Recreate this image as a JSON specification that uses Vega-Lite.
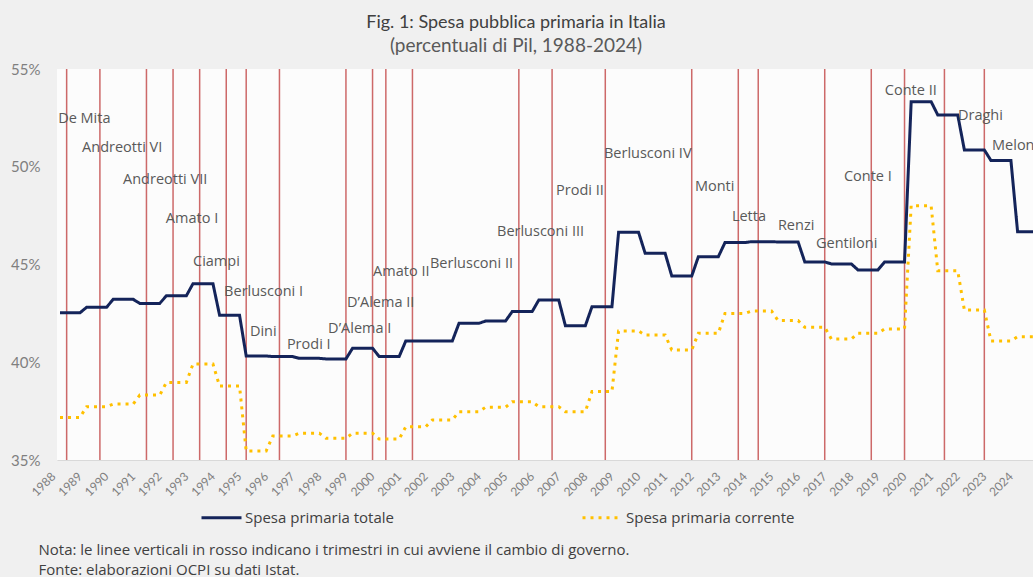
{
  "$schema": "https://vega.github.io/schema/vega-lite/v6.json",
  "width": 976,
  "height": 391,
  "autosize": {"type": "none"},
  "padding": {"left": 57, "top": 69, "right": 0, "bottom": 117},
  "background": "#f0f0f0",
  "title": {
    "text": "Fig. 1: Spesa pubblica primaria in Italia",
    "subtitle": "(percentuali di Pil, 1988-2024)",
    "anchor": "middle",
    "dx": -29,
    "offset": 6,
    "font": "Lato",
    "fontSize": 18,
    "fontWeight": "normal",
    "color": "#404040",
    "subtitleFont": "Lato",
    "subtitleFontSize": 19,
    "subtitleColor": "#595959",
    "subtitlePadding": 5
  },
  "config": {
    "view": {"fill": "#fcfcfc", "stroke": null},
    "axis": {"grid": false, "ticks": false, "tickSize": 0, "labelColor": "#7f7f7f", "labelFont": "Lato"},
    "axisX": {"labelOverlap": false, "labelFlush": false}
  },
  "datasets": {
    "serie": [
      {"t":1988,"tot":42.53,"cor":37.18},{"t":1988.25,"tot":42.53,"cor":37.18},{"t":1988.5,"tot":42.53,"cor":37.18},{"t":1988.75,"tot":42.53,"cor":37.18},
      {"t":1989,"tot":42.81,"cor":37.73},{"t":1989.25,"tot":42.81,"cor":37.73},{"t":1989.5,"tot":42.81,"cor":37.73},{"t":1989.75,"tot":42.81,"cor":37.73},
      {"t":1990,"tot":43.22,"cor":37.86},{"t":1990.25,"tot":43.22,"cor":37.86},{"t":1990.5,"tot":43.22,"cor":37.86},{"t":1990.75,"tot":43.22,"cor":37.86},
      {"t":1991,"tot":43.01,"cor":38.32},{"t":1991.25,"tot":43.01,"cor":38.32},{"t":1991.5,"tot":43.01,"cor":38.32},{"t":1991.75,"tot":43.01,"cor":38.32},
      {"t":1992,"tot":43.40,"cor":38.97},{"t":1992.25,"tot":43.40,"cor":38.97},{"t":1992.5,"tot":43.40,"cor":38.97},{"t":1992.75,"tot":43.40,"cor":38.97},
      {"t":1993,"tot":44.02,"cor":39.91},{"t":1993.25,"tot":44.02,"cor":39.91},{"t":1993.5,"tot":44.02,"cor":39.91},{"t":1993.75,"tot":44.02,"cor":39.91},
      {"t":1994,"tot":42.40,"cor":38.78},{"t":1994.25,"tot":42.40,"cor":38.78},{"t":1994.5,"tot":42.40,"cor":38.78},{"t":1994.75,"tot":42.40,"cor":38.78},
      {"t":1995,"tot":40.32,"cor":35.46},{"t":1995.25,"tot":40.32,"cor":35.46},{"t":1995.5,"tot":40.32,"cor":35.46},{"t":1995.75,"tot":40.32,"cor":35.46},
      {"t":1996,"tot":40.29,"cor":36.23},{"t":1996.25,"tot":40.29,"cor":36.23},{"t":1996.5,"tot":40.29,"cor":36.23},{"t":1996.75,"tot":40.29,"cor":36.23},
      {"t":1997,"tot":40.20,"cor":36.37},{"t":1997.25,"tot":40.20,"cor":36.37},{"t":1997.5,"tot":40.20,"cor":36.37},{"t":1997.75,"tot":40.20,"cor":36.37},
      {"t":1998,"tot":40.17,"cor":36.11},{"t":1998.25,"tot":40.17,"cor":36.11},{"t":1998.5,"tot":40.17,"cor":36.11},{"t":1998.75,"tot":40.17,"cor":36.11},
      {"t":1999,"tot":40.72,"cor":36.37},{"t":1999.25,"tot":40.72,"cor":36.37},{"t":1999.5,"tot":40.72,"cor":36.37},{"t":1999.75,"tot":40.72,"cor":36.37},
      {"t":2000,"tot":40.29,"cor":36.07},{"t":2000.25,"tot":40.29,"cor":36.07},{"t":2000.5,"tot":40.29,"cor":36.07},{"t":2000.75,"tot":40.29,"cor":36.07},
      {"t":2001,"tot":41.09,"cor":36.70},{"t":2001.25,"tot":41.09,"cor":36.70},{"t":2001.5,"tot":41.09,"cor":36.70},{"t":2001.75,"tot":41.09,"cor":36.70},
      {"t":2002,"tot":41.09,"cor":37.05},{"t":2002.25,"tot":41.09,"cor":37.05},{"t":2002.5,"tot":41.09,"cor":37.05},{"t":2002.75,"tot":41.09,"cor":37.05},
      {"t":2003,"tot":41.99,"cor":37.47},{"t":2003.25,"tot":41.99,"cor":37.47},{"t":2003.5,"tot":41.99,"cor":37.47},{"t":2003.75,"tot":41.99,"cor":37.47},
      {"t":2004,"tot":42.11,"cor":37.70},{"t":2004.25,"tot":42.11,"cor":37.70},{"t":2004.5,"tot":42.11,"cor":37.70},{"t":2004.75,"tot":42.11,"cor":37.70},
      {"t":2005,"tot":42.59,"cor":37.98},{"t":2005.25,"tot":42.59,"cor":37.98},{"t":2005.5,"tot":42.59,"cor":37.98},{"t":2005.75,"tot":42.59,"cor":37.98},
      {"t":2006,"tot":43.18,"cor":37.73},{"t":2006.25,"tot":43.18,"cor":37.73},{"t":2006.5,"tot":43.18,"cor":37.73},{"t":2006.75,"tot":43.18,"cor":37.73},
      {"t":2007,"tot":41.87,"cor":37.47},{"t":2007.25,"tot":41.87,"cor":37.47},{"t":2007.5,"tot":41.87,"cor":37.47},{"t":2007.75,"tot":41.87,"cor":37.47},
      {"t":2008,"tot":42.84,"cor":38.50},{"t":2008.25,"tot":42.84,"cor":38.50},{"t":2008.5,"tot":42.84,"cor":38.50},{"t":2008.75,"tot":42.84,"cor":38.50},
      {"t":2009,"tot":46.65,"cor":41.60},{"t":2009.25,"tot":46.65,"cor":41.60},{"t":2009.5,"tot":46.65,"cor":41.60},{"t":2009.75,"tot":46.65,"cor":41.60},
      {"t":2010,"tot":45.57,"cor":41.39},{"t":2010.25,"tot":45.57,"cor":41.39},{"t":2010.5,"tot":45.57,"cor":41.39},{"t":2010.75,"tot":45.57,"cor":41.39},
      {"t":2011,"tot":44.41,"cor":40.63},{"t":2011.25,"tot":44.41,"cor":40.63},{"t":2011.5,"tot":44.41,"cor":40.63},{"t":2011.75,"tot":44.41,"cor":40.63},
      {"t":2012,"tot":45.40,"cor":41.48},{"t":2012.25,"tot":45.40,"cor":41.48},{"t":2012.5,"tot":45.40,"cor":41.48},{"t":2012.75,"tot":45.40,"cor":41.48},
      {"t":2013,"tot":46.12,"cor":42.50},{"t":2013.25,"tot":46.12,"cor":42.50},{"t":2013.5,"tot":46.12,"cor":42.50},{"t":2013.75,"tot":46.12,"cor":42.50},
      {"t":2014,"tot":46.17,"cor":42.62},{"t":2014.25,"tot":46.17,"cor":42.62},{"t":2014.5,"tot":46.17,"cor":42.62},{"t":2014.75,"tot":46.17,"cor":42.62},
      {"t":2015,"tot":46.15,"cor":42.13},{"t":2015.25,"tot":46.15,"cor":42.13},{"t":2015.5,"tot":46.15,"cor":42.13},{"t":2015.75,"tot":46.15,"cor":42.13},
      {"t":2016,"tot":45.13,"cor":41.79},{"t":2016.25,"tot":45.13,"cor":41.79},{"t":2016.5,"tot":45.13,"cor":41.79},{"t":2016.75,"tot":45.13,"cor":41.79},
      {"t":2017,"tot":45.03,"cor":41.19},{"t":2017.25,"tot":45.03,"cor":41.19},{"t":2017.5,"tot":45.03,"cor":41.19},{"t":2017.75,"tot":45.03,"cor":41.19},
      {"t":2018,"tot":44.72,"cor":41.48},{"t":2018.25,"tot":44.72,"cor":41.48},{"t":2018.5,"tot":44.72,"cor":41.48},{"t":2018.75,"tot":44.72,"cor":41.48},
      {"t":2019,"tot":45.13,"cor":41.70},{"t":2019.25,"tot":45.13,"cor":41.70},{"t":2019.5,"tot":45.13,"cor":41.70},{"t":2019.75,"tot":45.13,"cor":41.70},
      {"t":2020,"tot":53.33,"cor":48.01},{"t":2020.25,"tot":53.33,"cor":48.01},{"t":2020.5,"tot":53.33,"cor":48.01},{"t":2020.75,"tot":53.33,"cor":48.01},
      {"t":2021,"tot":52.65,"cor":44.68},{"t":2021.25,"tot":52.65,"cor":44.68},{"t":2021.5,"tot":52.65,"cor":44.68},{"t":2021.75,"tot":52.65,"cor":44.68},
      {"t":2022,"tot":50.86,"cor":42.67},{"t":2022.25,"tot":50.86,"cor":42.67},{"t":2022.5,"tot":50.86,"cor":42.67},{"t":2022.75,"tot":50.86,"cor":42.67},
      {"t":2023,"tot":50.32,"cor":41.09},{"t":2023.25,"tot":50.32,"cor":41.09},{"t":2023.5,"tot":50.32,"cor":41.09},{"t":2023.75,"tot":50.32,"cor":41.09},
      {"t":2024,"tot":46.68,"cor":41.31},{"t":2024.25,"tot":46.68,"cor":41.31},{"t":2024.5,"tot":46.68,"cor":41.31},{"t":2024.75,"tot":46.68,"cor":41.31}
    ],
    "gov": [
      {"nome":"De Mita","t":1988.25,"lt":1987.93,"ly":52.43},
      {"nome":"Andreotti VI","t":1989.5,"lt":1988.83,"ly":50.94},
      {"nome":"Andreotti VII","t":1991.25,"lt":1990.37,"ly":49.32},
      {"nome":"Amato I","t":1992.25,"lt":1991.98,"ly":47.31},
      {"nome":"Ciampi","t":1993.25,"lt":1993.0,"ly":45.14},
      {"nome":"Berlusconi I","t":1994.25,"lt":1994.17,"ly":43.61},
      {"nome":"Dini","t":1995.0,"lt":1995.14,"ly":41.56},
      {"nome":"Prodi I","t":1996.25,"lt":1996.53,"ly":40.88},
      {"nome":"D’Alema I","t":1998.75,"lt":1998.08,"ly":41.68},
      {"nome":"D’Alema II","t":1999.75,"lt":1998.79,"ly":43.01},
      {"nome":"Amato II","t":2000.25,"lt":1999.77,"ly":44.63},
      {"nome":"Berlusconi II","t":2001.25,"lt":2001.91,"ly":45.03},
      {"nome":"Berlusconi III","t":2005.25,"lt":2004.43,"ly":46.65},
      {"nome":"Prodi II","t":2006.5,"lt":2006.65,"ly":48.78},
      {"nome":"Berlusconi IV","t":2008.5,"lt":2008.45,"ly":50.64},
      {"nome":"Monti","t":2011.75,"lt":2011.87,"ly":48.95},
      {"nome":"Letta","t":2013.5,"lt":2013.26,"ly":47.45},
      {"nome":"Renzi","t":2014.25,"lt":2014.99,"ly":46.99},
      {"nome":"Gentiloni","t":2016.75,"lt":2016.42,"ly":46.05},
      {"nome":"Conte I","t":2018.5,"lt":2017.47,"ly":49.49},
      {"nome":"Conte II","t":2019.75,"lt":2019.01,"ly":53.89},
      {"nome":"Draghi","t":2021.25,"lt":2021.76,"ly":52.6},
      {"nome":"Meloni","t":2022.75,"lt":2023.04,"ly":51.06}
    ]
  },
  "encoding": {
    "x": {
      "field": "t", "type": "quantitative",
      "scale": {"domain": [1987.887, 2024.58], "nice": false, "zero": false},
      "axis": {
        "values": [1988,1989,1990,1991,1992,1993,1994,1995,1996,1997,1998,1999,2000,2001,2002,2003,2004,2005,2006,2007,2008,2009,2010,2011,2012,2013,2014,2015,2016,2017,2018,2019,2020,2021,2022,2023,2024],
        "format": "d",
        "labelAngle": -45,
        "labelAlign": "right",
        "labelBaseline": "middle",
        "labelOffset": -7,
        "labelPadding": 14,
        "labelFontSize": 12,
        "labelOverlap": false,
        "labelFlush": false,
        "domain": true,
        "domainColor": "#d9d9d9",
        "title": ["Nota: le linee verticali in rosso indicano i trimestri in cui avviene il cambio di governo.", "Fonte: elaborazioni OCPI su dati Istat."],
        "titleX": -19,
        "titleY": 82,
        "titleAlign": "left",
        "titleAnchor": "start",
        "titleBaseline": "top",
        "titleLineHeight": 20,
        "titleFont": "Open Sans",
        "titleFontSize": 15,
        "titleFontWeight": "normal",
        "titleColor": "#404040"
      }
    }
  },
  "layer": [
    {
      "data": {"name": "gov"},
      "mark": {"type": "rule", "color": "#c44f4f", "strokeWidth": 1.5, "opacity": 0.85},
      "encoding": {}
    },
    {
      "data": {"name": "serie"},
      "transform": [{"fold": ["tot", "cor"], "as": ["s", "v"]}],
      "mark": {"type": "line", "strokeWidth": 3, "clip": true},
      "encoding": {
        "y": {
          "field": "v", "type": "quantitative",
          "scale": {"domain": [35, 55], "nice": false, "zero": false},
          "axis": {
            "values": [35, 40, 45, 50, 55],
            "labelExpr": "datum.value + '%'",
            "domain": false,
            "labelPadding": 17,
            "labelFontSize": 15,
            "title": null
          }
        },
        "color": {
          "field": "s", "type": "nominal",
          "scale": {"domain": ["tot", "cor"], "range": ["#14245a", "#ffc000"]},
          "legend": {
            "orient": "none",
            "legendX": 143,
            "legendY": 427,
            "direction": "horizontal",
            "title": null,
            "symbolType": "stroke",
            "symbolSize": 1600,
            "symbolStrokeWidth": 3,
            "labelFont": "Open Sans",
            "labelFontSize": 15,
            "labelColor": "#404040",
            "labelOffset": 2,
            "labelLimit": 400,
            "columnPadding": 182,
            "labelExpr": "datum.label == 'tot' ? 'Spesa primaria totale' : 'Spesa primaria corrente'"
          }
        },
        "strokeDash": {
          "field": "s", "type": "nominal",
          "scale": {"domain": ["tot", "cor"], "range": [[1, 0], [3, 5]]},
          "legend": null
        }
      }
    },
    {
      "data": {"name": "gov"},
      "mark": {"type": "text", "align": "left", "baseline": "middle", "font": "Open Sans", "fontSize": 14.5, "color": "#595959"},
      "encoding": {
        "x": {"field": "lt", "type": "quantitative"},
        "y": {"field": "ly", "type": "quantitative"},
        "text": {"field": "nome"}
      }
    }
  ]
}
